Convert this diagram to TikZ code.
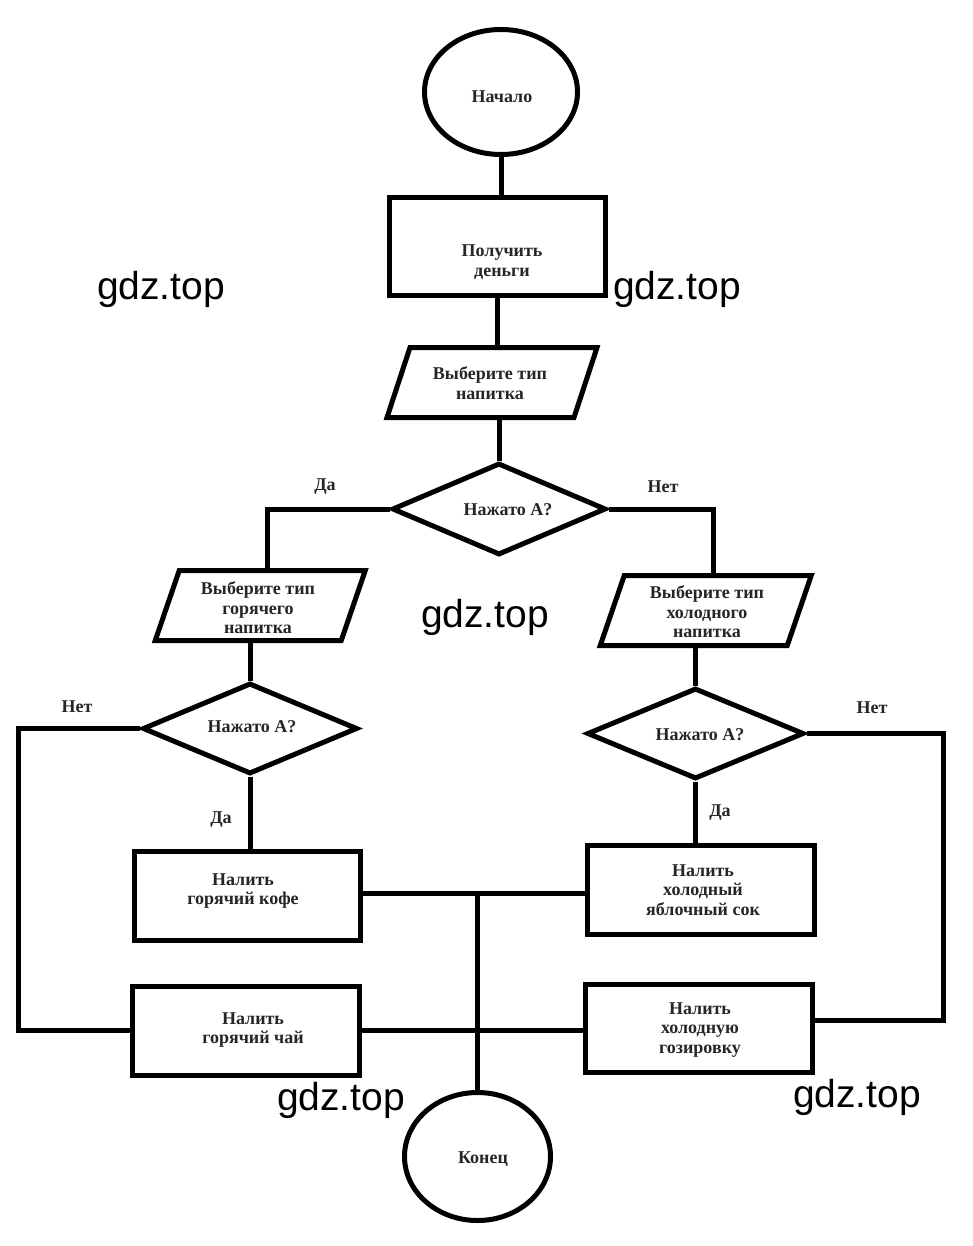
\documentclass[tikz,border=0pt]{standalone}
\usepackage{fontspec}
\setmainfont{Liberation Serif}
\newfontfamily\wmfont{Liberation Sans}
\usetikzlibrary{shapes.geometric}
\begin{document}
\begin{tikzpicture}[x=1pt,y=-1pt,
  ln/.style={line width=5pt, line join=miter},
  blk/.style={draw, ln, rectangle, inner sep=0pt},
  oval/.style={draw, ln, ellipse, inner sep=0pt},
  dia/.style={draw, ln, diamond, inner sep=0pt},
  slot/.style={inner sep=0pt, outer sep=0pt},
  txt/.style={font=\bfseries\fontsize{18}{19.5}\selectfont, text=black!85, align=center, inner sep=0pt},
  lbl/.style={font=\bfseries\fontsize{18}{19.5}\selectfont, text=black!85, inner sep=0pt},
  wm/.style={font=\wmfont\fontsize{39}{44}\selectfont, text=black, inner sep=0pt}]
\fill[white] (0,0) rectangle (972,1246);
\useasboundingbox (0,0) rectangle (972,1246);

% shapes
\node[oval, minimum width=153pt, minimum height=125pt] (start) at (501,92) {};
\node[blk, minimum width=216pt, minimum height=98pt] (money) at (497.5,246.5) {};
\node[slot, minimum width=187pt, minimum height=70pt] (p1) at (492,382.5) {};
\draw[ln] ([xshift=-11.5pt]p1.south west) -- ([xshift=-11.5pt]p1.south east) -- ([xshift=11.5pt]p1.north east) -- ([xshift=11.5pt]p1.north west) -- cycle;
\node[dia, minimum width=214pt, minimum height=92pt] (d1) at (499,509) {};

\node[slot, minimum width=186pt, minimum height=70pt] (p2) at (260.25,605.5) {};
\draw[ln] ([xshift=-12pt]p2.south west) -- ([xshift=-12pt]p2.south east) -- ([xshift=12pt]p2.north east) -- ([xshift=12pt]p2.north west) -- cycle;
\node[slot, minimum width=187pt, minimum height=70pt] (p3) at (705.75,610.5) {};
\draw[ln] ([xshift=-12pt]p3.south west) -- ([xshift=-12pt]p3.south east) -- ([xshift=12pt]p3.north east) -- ([xshift=12pt]p3.north west) -- cycle;

\node[dia, minimum width=215pt, minimum height=91pt] (d2) at (250,728.5) {};
\node[dia, minimum width=217pt, minimum height=91pt] (d3) at (695.5,733.5) {};

\node[blk, minimum width=226pt, minimum height=89pt] (coffee) at (247.5,896) {};
\node[blk, minimum width=227pt, minimum height=89pt] (tea) at (246,1031) {};
\node[blk, minimum width=227pt, minimum height=89pt] (juice) at (701,890) {};
\node[blk, minimum width=227pt, minimum height=88pt] (soda) at (699,1028.5) {};
\node[oval, minimum width=146pt, minimum height=128pt] (end) at (477.5,1156.5) {};

% texts
\node[txt] (tstart) at (502,97) {Начало};
\node[txt] (tmoney) at (502,262) {Получить\\деньги};
\node[txt] (tp1) at (490,383) {Выберите тип\\напитка};
\node[txt] (td1) at (508,510) {Нажато А?};
\node[txt] (tp2) at (258,608) {Выберите тип\\горячего\\напитка};
\node[txt] (tp3) at (707,612) {Выберите тип\\холодного\\напитка};
\node[txt] (td2) at (252,727) {Нажато А?};
\node[txt] (td3) at (700,735) {Нажато А?};
\node[txt] (tcoffee) at (243,891) {Налить\\горячий кофе};
\node[txt] (ttea) at (253,1030) {Налить\\горячий чай};
\node[txt] (tjuice) at (703,890) {Налить\\холодный\\яблочный сок};
\node[txt] (tsoda) at (700,1030) {Налить\\холодную\\гозировку};
\node[txt] (tend) at (483,1159) {Конец};

% labels
\node[lbl] (l1) at (325,487) {Да};
\node[lbl] (l2) at (663,487) {Нет};
\node[lbl] (l3) at (77,707) {Нет};
\node[lbl] (l4) at (221,820) {Да};
\node[lbl] (l5) at (720,813) {Да};
\node[lbl] (l6) at (872,708) {Нет};

% connectors
\draw[ln] (start.south) -- (start.south |- money.north);
\draw[ln] (money.south) -- (money.south |- p1.north);
\draw[ln] (d1.north |- p1.south) -- (d1.north);
\draw[ln] (d1.west) -| ([xshift=7pt]p2.north);
\draw[ln] (d1.east) -| ([xshift=8pt]p3.north);
\draw[ln] (d2.north |- p2.south) -- (d2.north);
\draw[ln] (d3.north |- p3.south) -- (d3.north);
\draw[ln] (d2.south) -- (d2.south |- coffee.north);
\draw[ln] (d3.south) -- (d3.south |- juice.north);
\draw[ln] (d2.west) -| ([xshift=-112pt,yshift=1pt]tea.west) -- ([yshift=1pt]tea.west);
\draw[ln] (d3.east) -| ([xshift=128pt,yshift=8.5pt]soda.east) -- ([yshift=8.5pt]soda.east);
\draw[ln] ([yshift=3pt]coffee.east) -- ([yshift=-3pt]juice.west);
\draw[ln] ([yshift=1pt]tea.east) -- ([yshift=-1.5pt]soda.west);
\draw[ln] (end.north) -- ([yshift=3pt]end.north |- coffee.east);

% watermarks
\node[wm] (w1) at (161,289) {gdz.top};
\node[wm] (w2) at (677,289) {gdz.top};
\node[wm] (w3) at (485,617) {gdz.top};
\node[wm] (w4) at (341,1100) {gdz.top};
\node[wm] (w5) at (857,1097) {gdz.top};
\end{tikzpicture}
\end{document}
